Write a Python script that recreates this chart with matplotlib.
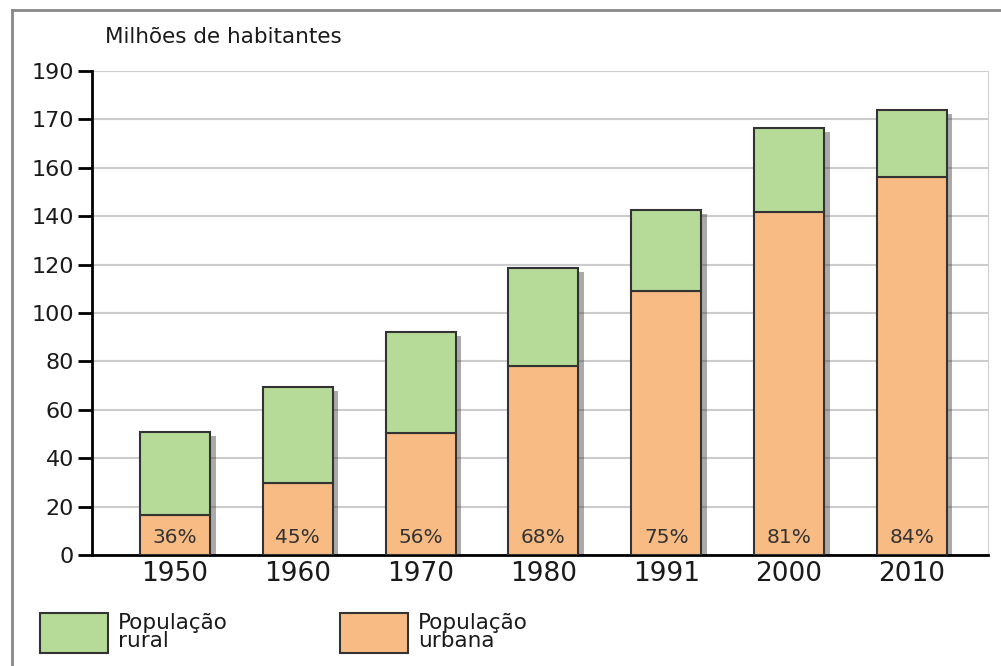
import numpy as np
import matplotlib.pyplot as plt
import matplotlib.patheffects as pe
from matplotlib.patches import Rectangle
from matplotlib.lines import Line2D

plt.rcParams['font.family'] = ['DejaVu Sans']

anos = ['1950', '1960', '1970', '1980', '1991', '2000', '2010']
urbana = [16.5, 29.8, 50.4, 78.0, 109.0, 141.7, 156.2]
rural = [34.3, 39.6, 41.7, 40.6, 33.6, 34.7, 27.7]
pct_urbana = ['36%', '45%', '56%', '68%', '75%', '81%', '84%']
y_ticks = [0, 20, 40, 60, 80, 100, 120, 140, 160, 180, 200]
y_labels = ['0', '20', '40', '60', '80', '100', '120', '140', '160', '170', '190']

verde = '#b6da98'
laranja = '#f9bb84'
txt_cor = '#1a1a1a'
W, H = 1001, 666

fig = plt.figure(figsize=(W / 100, H / 100), dpi=100)
ax = fig.add_axes([92 / W, (H - 555) / H, (988 - 92) / W, (555 - 71) / H])

x = np.arange(len(anos))
total = np.array(urbana) + np.array(rural)
# sombra da barra inteira
sombra = ax.bar(x, total, width=0.57, color='none', linewidth=0, zorder=2)
for b in sombra:
    b.set_path_effects([pe.SimplePatchShadow(offset=(4, -3), shadow_rgbFace='#444444', alpha=0.45)])
ax.bar(x, urbana, width=0.57, color=laranja, edgecolor='#333333', linewidth=1.5, zorder=3)
ax.bar(x, rural, bottom=urbana, width=0.57, color=verde, edgecolor='#333333', linewidth=1.5, zorder=3)

for xi, p in zip(x, pct_urbana):
    ax.text(xi, 7.4, p, ha='center', va='center', fontsize=14.5, color='#333333', zorder=5)

ax.set_xlim(-0.676, 6.62)
ax.set_ylim(0, 200)
ax.set_yticks(y_ticks)
ax.set_yticklabels(y_labels, fontsize=16, color=txt_cor)
ax.set_xticks(x)
ax.set_xticklabels(anos, fontsize=19, color=txt_cor)
ax.tick_params(axis='x', length=0, pad=4)
ax.tick_params(axis='y', length=10, width=2, pad=3)
ax.grid(axis='y', color='#cccccc', linewidth=1.5, zorder=0)
ax.set_axisbelow(True)
ax.spines['top'].set_visible(False)
ax.spines['right'].set_color('#d0d0d0')
ax.spines['left'].set_linewidth(2)
ax.spines['bottom'].set_linewidth(2)

fig.text(105 / W, (H - 37) / H, 'Milhões de habitantes', fontsize=15.5, color=txt_cor, va='center')

# legenda
for x0, cor, txt in [(40, verde, 'População\nrural'), (340, laranja, 'População\nurbana')]:
    fig.add_artist(Rectangle((x0 / W, (H - 653) / H), 68 / W, 40 / H, transform=fig.transFigure,
                             facecolor=cor, edgecolor='#333333', linewidth=1.5))
    fig.text((x0 + 78) / W, (H - 632) / H, txt, fontsize=15.5, color=txt_cor, va='center',
             linespacing=0.9)

# moldura
fig.add_artist(Line2D([12 / W, 1], [(H - 10) / H, (H - 10) / H], color='#888888', lw=2, transform=fig.transFigure))
fig.add_artist(Line2D([12 / W, 12 / W], [0, (H - 10) / H], color='#888888', lw=2, transform=fig.transFigure))

fig.savefig('out.png', dpi=100)
